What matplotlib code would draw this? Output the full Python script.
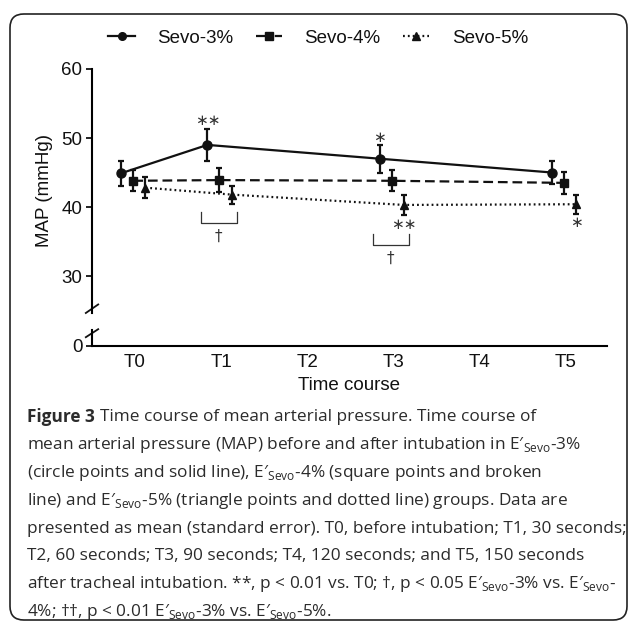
import matplotlib
matplotlib.use('Agg')
import matplotlib.pyplot as plt
from matplotlib.patches import FancyBboxPatch
from matplotlib.lines import Line2D
import numpy as np

plt.rcParams['font.family'] = ['Liberation Sans', 'DejaVu Sans']
plt.rcParams['mathtext.fontset'] = 'custom'
plt.rcParams['mathtext.rm'] = 'Open Sans'
plt.rcParams['lines.scale_dashes'] = False

# data (mean and standard error, mmHg)
time_labels = ['T0', 'T1', 'T2', 'T3', 'T4', 'T5']
time_idx = [0, 1, 3, 5]
sevo3_mean = [44.9, 49.0, 47.0, 45.0]
sevo3_se = [1.8, 2.3, 2.0, 1.7]
sevo4_mean = [43.8, 43.9, 43.8, 43.5]
sevo4_se = [1.5, 1.75, 1.55, 1.6]
sevo5_mean = [42.8, 41.8, 40.3, 40.4]
sevo5_se = [1.5, 1.3, 1.4, 1.4]

caption_lines = [
    'Time course of mean arterial pressure. Time course of',
    'mean arterial pressure (MAP) before and after intubation in E′$_{\\mathrm{Sevo}}$-3%',
    '(circle points and solid line), E′$_{\\mathrm{Sevo}}$-4% (square points and broken',
    'line) and E′$_{\\mathrm{Sevo}}$-5% (triangle points and dotted line) groups. Data are',
    'presented as mean (standard error). T0, before intubation; T1, 30 seconds;',
    'T2, 60 seconds; T3, 90 seconds; T4, 120 seconds; and T5, 150 seconds',
    'after tracheal intubation. **, p < 0.01 vs. T0; †, p < 0.05 E′$_{\\mathrm{Sevo}}$-3% vs. E′$_{\\mathrm{Sevo}}$-',
    '4%; ††, p < 0.01 E′$_{\\mathrm{Sevo}}$-3% vs. E′$_{\\mathrm{Sevo}}$-5%.',
]

ink = '#111111'
W, H = 629, 622
fig = plt.figure(figsize=(W / 100, H / 100), dpi=100)

# broken y axis: main part and a small strip holding 0
ax = fig.add_axes([92 / W, 1 - 313 / H, 515 / W, 244 / H])
ax0 = fig.add_axes([92 / W, 1 - 346 / H, 515 / W, 16 / H])

x = np.array(time_idx, dtype=float)
off3, off4, off5 = -0.16, -0.02, 0.12
ls4 = (0, (7, 3.5))
ls5 = (0, (1.3, 2.2))

ax.errorbar(x + off3, sevo3_mean, yerr=sevo3_se, color=ink, lw=1.6, ls='-',
            marker='o', ms=6.5, elinewidth=1.6, capsize=2.2, capthick=1.6)
ax.errorbar(x + off4, sevo4_mean, yerr=sevo4_se, color=ink, lw=1.6, ls=ls4,
            marker='s', ms=6, elinewidth=1.6, capsize=2.2, capthick=1.6)
ax.errorbar(x + off5, sevo5_mean, yerr=sevo5_se, color=ink, lw=1.6, ls=ls5,
            marker='^', ms=6, elinewidth=1.6, capsize=2.2, capthick=1.6)

for a in (ax, ax0):
    a.set_xlim(-0.5, 5.48)
    a.spines['top'].set_visible(False)
    a.spines['right'].set_visible(False)
    a.spines['left'].set_linewidth(1.5)
    a.spines['bottom'].set_linewidth(1.5)
    a.tick_params(axis='y', direction='out', length=4, width=1.3, pad=3,
                  labelsize=13.5, colors=ink)

ax.set_ylim(24.64, 60)
ax.set_yticks([30, 40, 50, 60])
ax.spines['bottom'].set_visible(False)
ax.set_xticks([])
ax.set_ylabel('MAP (mmHg)', fontsize=13.5, color=ink, labelpad=6)

ax0.set_ylim(0, 2.32)
ax0.set_yticks([0])
ax0.set_xticks(range(len(time_labels)))
ax0.set_xticklabels(time_labels)
ax0.tick_params(axis='x', length=0, pad=6, labelsize=13.5, colors=ink)
ax0.set_xlabel('Time course', fontsize=13.5, color=ink, labelpad=4)

# break marks on the y axis
kw = dict(color=ink, lw=1.3, clip_on=False)
ax.plot([-0.012, 0.012], [-0.0, 0.035], transform=ax.transAxes, **kw)
ax0.plot([-0.012, 0.012], [0.55, 1.05], transform=ax0.transAxes, **kw)

# significance marks
star = dict(ha='center', va='center', fontsize=11, color='#333333', family='DejaVu Sans')
ax.text(1 + off3, 52.5, '∗∗', **star)
ax.text(3 + off3, 50.1, '∗', **star)
ax.text(3 + off5, 37.4, '∗∗', **star)
ax.text(5 + off5, 37.8, '∗', **star)


def bracket(xc, top, bottom, y_dag):
    xl, xr = xc - 0.24, xc + 0.18
    ax.plot([xl, xl, xr, xr], [top, bottom, bottom, top], color='#333333', lw=0.9)
    ax.text((xl + xr) / 2, y_dag, '†', ha='center', va='center', fontsize=11,
            color='#333333', family='DejaVu Sans')


bracket(1, 39.3, 37.7, 35.7)
bracket(3, 36.1, 34.5, 32.5)

handles = [
    Line2D([], [], color=ink, lw=1.6, ls='-', marker='o', ms=5.5, label='Sevo-3%'),
    Line2D([], [], color=ink, lw=1.6, ls=(0, (7, 2.5, 1.5, 2.5)), marker='s', ms=5.5,
           label='Sevo-4%'),
    Line2D([], [], color=ink, lw=1.6, ls=(0, (1.3, 2.2)), marker='^', ms=5.5,
           label='Sevo-5%'),
]
leg = fig.legend(handles=handles, loc='center', bbox_to_anchor=(0.506, 1 - 38 / H),
                 ncol=3, frameon=False, fontsize=13.5, handlelength=1.4,
                 handletextpad=1.2, columnspacing=1.2)
for t in leg.get_texts():
    t.set_color(ink)

# caption
cap_col = '#2b2b2b'
cap_kw = dict(fontsize=12.4, color=cap_col, va='center', ha='left',
              family=['Open Sans', 'DejaVu Sans'])
y0 = 417
x_left = 27 / W
fig.canvas.draw()
r = fig.canvas.get_renderer()
bold = fig.text(x_left, 1 - y0 / H, 'Figure 3', fontweight='bold', **cap_kw)
bb = bold.get_window_extent(renderer=r)
fig.text(bb.x1 / W + 5 / W, 1 - y0 / H, caption_lines[0], **cap_kw)
for i, line in enumerate(caption_lines[1:], start=1):
    fig.text(x_left, 1 - (y0 + i * 27.9) / H, line, **cap_kw)

# rounded frame around the panel
frame = FancyBboxPatch((10 / W, 2 / H), 617 / W, 606 / H, transform=fig.transFigure,
                       boxstyle='round,pad=0,rounding_size=0.022', fill=False,
                       lw=1.2, ec='#222222')
fig.patches.append(frame)

fig.savefig('out.png', dpi=100)
